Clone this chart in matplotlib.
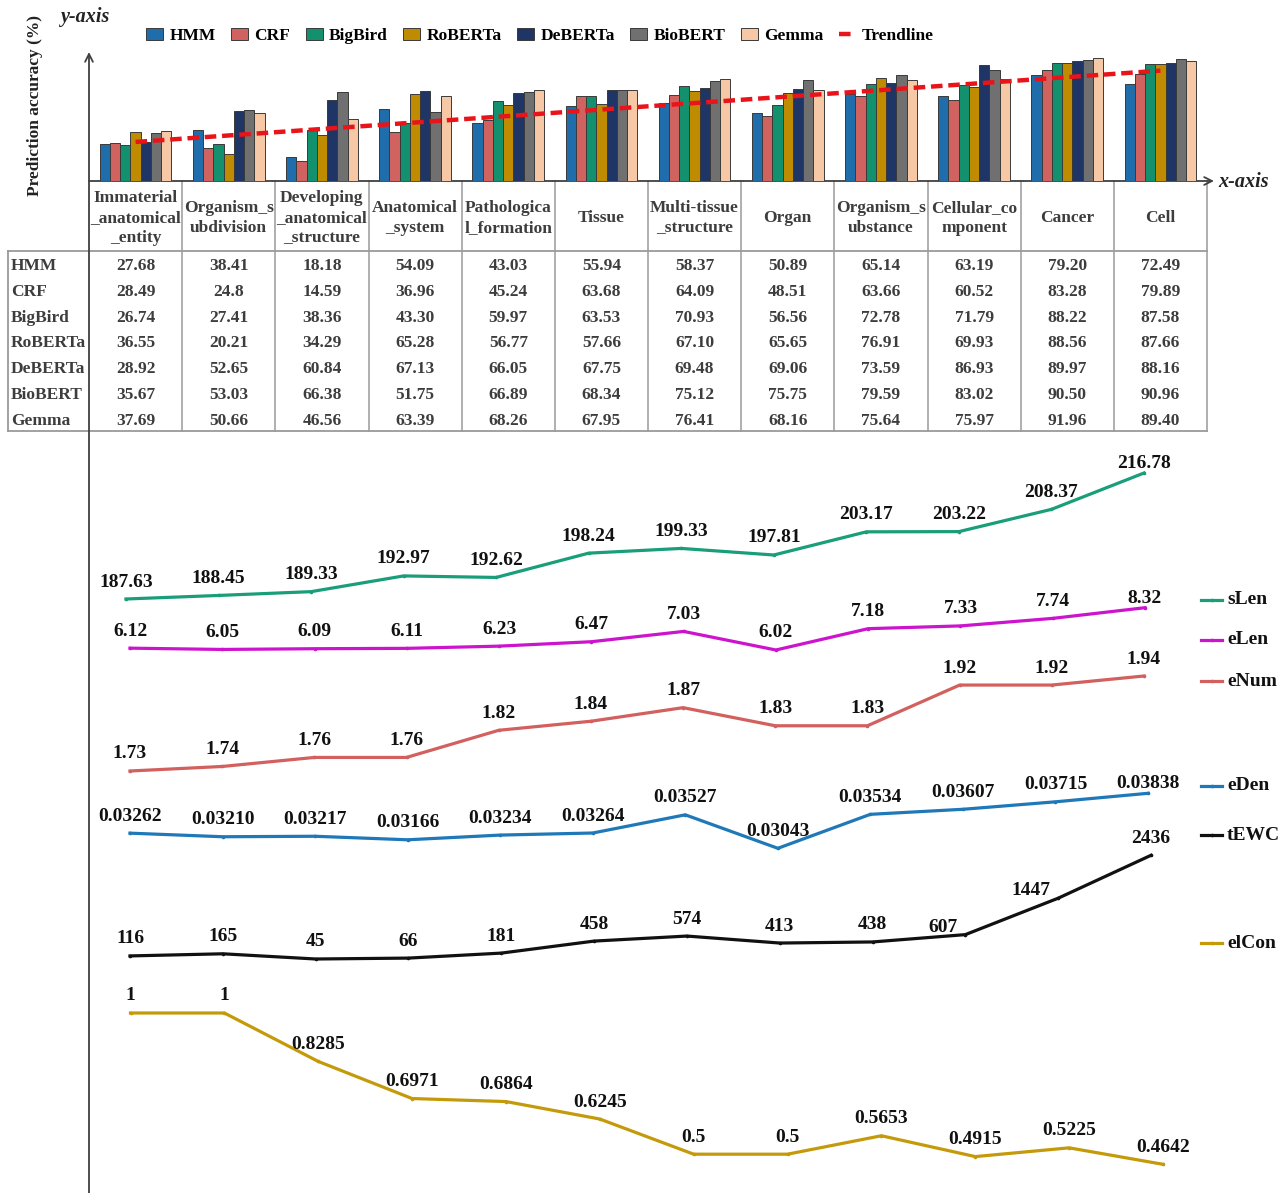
import matplotlib
matplotlib.use("Agg")
import matplotlib.pyplot as plt
from matplotlib.patches import Patch
from matplotlib.lines import Line2D

plt.rcParams['font.family'] = ['Liberation Serif', 'DejaVu Serif']

# ---------------- data ----------------
categories = ["Immaterial\n_anatomical\n_entity", "Organism_s\nubdivision",
              "Developing\n_anatomical\n_structure", "Anatomical\n_system",
              "Pathologica\nl_formation", "Tissue", "Multi-tissue\n_structure",
              "Organ", "Organism_s\nubstance", "Cellular_co\nmponent",
              "Cancer", "Cell"]

models = ["HMM", "CRF", "BigBird", "RoBERTa", "DeBERTa", "BioBERT", "Gemma"]

hmm     = ["27.68", "38.41", "18.18", "54.09", "43.03", "55.94", "58.37", "50.89", "65.14", "63.19", "79.20", "72.49"]
crf     = ["28.49", "24.8",  "14.59", "36.96", "45.24", "63.68", "64.09", "48.51", "63.66", "60.52", "83.28", "79.89"]
bigbird = ["26.74", "27.41", "38.36", "43.30", "59.97", "63.53", "70.93", "56.56", "72.78", "71.79", "88.22", "87.58"]
roberta = ["36.55", "20.21", "34.29", "65.28", "56.77", "57.66", "67.10", "65.65", "76.91", "69.93", "88.56", "87.66"]
deberta = ["28.92", "52.65", "60.84", "67.13", "66.05", "67.75", "69.48", "69.06", "73.59", "86.93", "89.97", "88.16"]
biobert = ["35.67", "53.03", "66.38", "51.75", "66.89", "68.34", "75.12", "75.75", "79.59", "83.02", "90.50", "90.96"]
gemma   = ["37.69", "50.66", "46.56", "63.39", "68.26", "67.95", "76.41", "68.16", "75.64", "75.97", "91.96", "89.40"]

# trendline end values (first and last category)
trend_ends = [29.2, 82.5]

sLen  = [187.63, 188.45, 189.33, 192.97, 192.62, 198.24, 199.33, 197.81, 203.17, 203.22, 208.37, 216.78]
eLen  = [6.12, 6.05, 6.09, 6.11, 6.23, 6.47, 7.03, 6.02, 7.18, 7.33, 7.74, 8.32]
eNum  = [1.73, 1.74, 1.76, 1.76, 1.82, 1.84, 1.87, 1.83, 1.83, 1.92, 1.92, 1.94]
eDen  = [0.03262, 0.03210, 0.03217, 0.03166, 0.03234, 0.03264, 0.03527, 0.03043, 0.03534, 0.03607, 0.03715, 0.03838]
tEWC  = [116, 165, 45, 66, 181, 458, 574, 413, 438, 607, 1447, 2436]
elCon = [1, 1, 0.8285, 0.6971, 0.6864, 0.6245, 0.5, 0.5, 0.5653, 0.4915, 0.5225, 0.4642]

# ---------------- styling ----------------
bar_colors = ['#1F6DAA', '#D0625F', '#13916F', '#BF8B00', '#1F3566', '#707070', '#F7C8A6']
TXT = '#3d3d3d'
AX = '#404040'
GRID = '#9a9a9a'

W, H = 1286, 1193
fig = plt.figure(figsize=(W / 100, H / 100), dpi=100)


def px_axes(x0, y0, x1, y1, z=1):
    return fig.add_axes([x0 / W, 1 - y1 / H, (x1 - x0) / W, (y1 - y0) / H], zorder=z)


# overlay in pixel coordinates for the table frame, axis arrows and legends
ov = fig.add_axes([0, 0, 1, 1], zorder=0)
ov.set_xlim(0, W)
ov.set_ylim(H, 0)
ov.axis('off')

X0, X1 = 89, 1207
COLW = (X1 - X0) / len(categories)
BASE = 181

# ---------------- bar chart ----------------
ax = px_axes(X0, 55, X1, BASE, z=2)
ax.patch.set_alpha(0)
for s in ax.spines.values():
    s.set_visible(False)
ax.set_xticks([])
ax.set_yticks([])
ax.set_xlim(-0.5, len(categories) - 0.5)
ax.set_ylim(0, 94.2)

series = [hmm, crf, bigbird, roberta, deberta, biobert, gemma]
bw = 0.11
for j, (name, vals) in enumerate(zip(models, series)):
    xs = [i + (j - 3) * bw for i in range(len(categories))]
    ax.bar(xs, [float(v) for v in vals], width=bw, color=bar_colors[j],
           edgecolor='#3a3a3a', linewidth=0.7, label=name)
ax.plot([0, len(categories) - 1], trend_ends, color='#E8141A', lw=3.2,
        linestyle=(0, (2.6, 1.3)), solid_capstyle='butt', zorder=5)

# axis arrows
ov.annotate('', xy=(X0, 52), xytext=(X0, H + 2),
            arrowprops=dict(arrowstyle='->', color=AX, lw=1.3, shrinkA=0, shrinkB=0,
                            mutation_scale=14))
ov.annotate('', xy=(1214, BASE), xytext=(X0, BASE),
            arrowprops=dict(arrowstyle='->', color=AX, lw=1.3, shrinkA=0, shrinkB=0,
                            mutation_scale=14))
ov.text(85, 17, 'y-axis', fontsize=14.5, fontweight='bold', fontstyle='italic',
        ha='center', va='center', color='#222222')
ov.text(1218, 182, 'x-axis', fontsize=14.5, fontweight='bold', fontstyle='italic',
        ha='left', va='center', color='#222222')
ov.text(35, 105, 'Prediction accuracy (%)', fontsize=12.5, fontweight='bold',
        rotation=90, ha='center', va='center', color='#222222')

# top legend
handles = [Patch(facecolor=c, edgecolor='#3a3a3a', linewidth=0.7) for c in bar_colors]
handles.append(Line2D([0], [0], color='#E8141A', lw=3.2, linestyle=(0, (2.6, 1.3))))
labels = models + ['Trendline']
fig.legend(handles, labels, loc='center', bbox_to_anchor=(540 / W, 1 - 36 / H),
           ncol=8, frameon=False, prop={'family': 'Liberation Serif', 'weight': 'bold', 'size': 12.5},
           handlelength=1.0, handleheight=0.65, handletextpad=0.35, columnspacing=0.88)

# ---------------- table ----------------
ROW0, ROWH = 266, 25.8
TOP, BOT = 251, 431
for k in range(1, len(categories) + 1):
    xk = X0 + k * COLW
    ov.plot([xk, xk], [BASE, BOT], color=GRID, lw=1.1)
ov.plot([8, X1], [TOP, TOP], color=GRID, lw=1.3)
ov.plot([8, X1], [BOT, BOT], color=GRID, lw=1.3)
ov.plot([8, 8], [TOP, BOT], color=GRID, lw=1.3)

for i, cat in enumerate(categories):
    ov.text(X0 + (i + 0.5) * COLW, 218, cat, fontsize=12.5, fontweight='bold',
            ha='center', va='center', color=TXT, linespacing=1.3)

for r, (name, vals) in enumerate(zip(models, series)):
    y = ROW0 + r * ROWH
    ov.text(11, y, name, fontsize=12.5, fontweight='bold', ha='left', va='center', color=TXT)
    for i, v in enumerate(vals):
        ov.text(X0 + (i + 0.5) * COLW, y, v, fontsize=12.5, fontweight='bold',
                ha='center', va='center', color=TXT)

# ---------------- feature lines ----------------
# (name, values, colour, label format, pixel box: x_first, x_last, y_at_max, y_at_min, legend y)
line_specs = [
    ('sLen', sLen, '#1A9E7A', '{:.2f}', (126, 1144, 473, 599), 600),
    ('eLen', eLen, '#CC14CC', '{:.2f}', (130, 1145, 607.7, 650), 640),
    ('eNum', eNum, '#D2605E', '{:.2f}', (130, 1144, 676, 771), 681),
    ('eDen', eDen, '#1F78B8', '{:.5f}', (130, 1148, 793.3, 848.3), 786),
    ('tEWC', tEWC, '#111111', '{:d}', (130, 1151, 855.3, 959), 835),
    ('elCon', elCon, '#C49A0A', '{:g}', (130.5, 1163, 1013, 1164.3), 943),
]
# label offsets (pixels) that differ from the default placement above the point
label_shift = {
    ('sLen', 11): (0, 10), ('eLen', 11): (0, 9), ('eDen', 11): (0, 10),
    ('tEWC', 9): (-22, 7), ('tEWC', 10): (-27, 8),
}

for name, vals, col, fmt, (xa, xb, ytop, ybot), ly in line_specs:
    la = px_axes(xa, ytop, xb, ybot, z=3)
    la.axis('off')
    la.set_xlim(0, len(vals) - 1)
    la.set_ylim(min(vals), max(vals))
    la.plot(range(len(vals)), vals, color=col, lw=2.3, marker='o', ms=1.6,
            clip_on=False, solid_joinstyle='round')
    for i, v in enumerate(vals):
        dx, dy = label_shift.get((name, i), (0, 17))
        la.annotate(fmt.format(v), (i, v), xytext=(dx, dy), textcoords='offset pixels',
                    ha='center', va='center', fontsize=14, fontweight='bold',
                    color='#111111', annotation_clip=False)
    # side legend entry
    ov.plot([1201, 1222], [ly, ly], color=col, lw=2.3)
    ov.plot([1211.5], [ly], marker='o', ms=1.6, color=col)
    ov.text(1227, ly, name, fontsize=14, fontweight='bold', ha='left', va='center',
            color='#111111')

fig.savefig('out.png', dpi=100)
